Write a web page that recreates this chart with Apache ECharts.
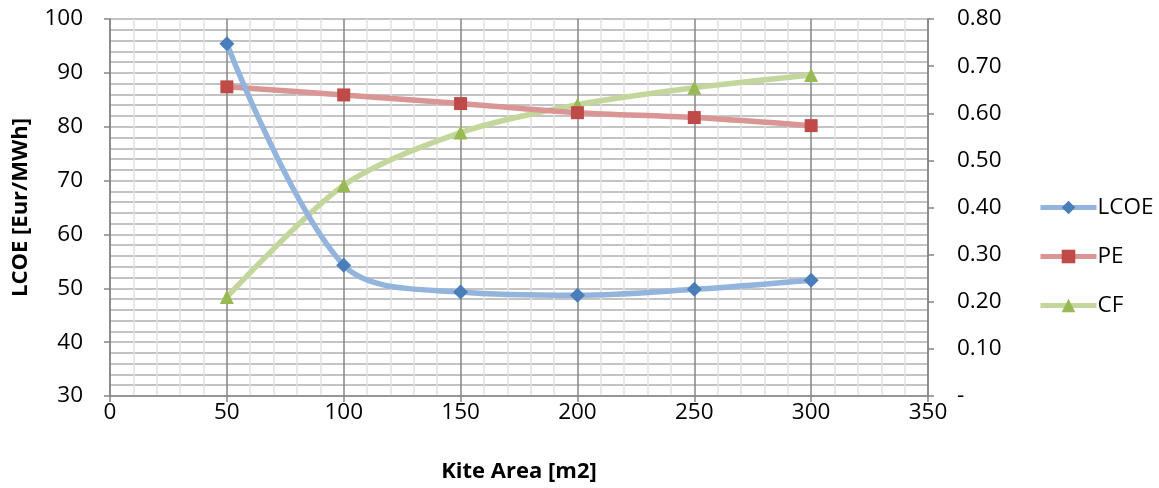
<!DOCTYPE html>
<html>
<head>
<meta charset="utf-8">
<script src="https://cdn.jsdelivr.net/npm/echarts@6/dist/echarts.min.js"></script>
<style>
  html, body { margin: 0; padding: 0; background: #fff; }
  #chart { width: 1159px; height: 488px; }
</style>
</head>
<body>
<div id="chart"></div>
<script>
// Kite area (m2) against levelised cost, PE and capacity factor
const kiteArea = [50, 100, 150, 200, 250, 300];
const lcoe = [95.4, 54.3, 49.3, 48.7, 49.8, 51.5];
const pe = [87.4, 85.9, 84.3, 82.6, 81.7, 80.2];
const cf = [0.21, 0.447, 0.559, 0.618, 0.654, 0.681];

const FONT = 'Open Sans';
const TICK_SIZE = 22.5;
const TITLE_SIZE = 22;

function pairs(xs, ys) {
  return xs.map((x, i) => [x, ys[i]]);
}

const chart = echarts.init(document.getElementById('chart'));
chart.setOption({
  animation: false,
  textStyle: { fontFamily: FONT, color: '#000' },
  grid: { left: 110, right: 231, top: 19, bottom: 91 },
  legend: {
    orient: 'vertical',
    left: 1038,
    top: 196,
    padding: 0,
    itemWidth: 56,
    itemHeight: 17,
    itemGap: 26,
    lineStyle: { width: 5 },
    textStyle: { fontFamily: FONT, fontSize: TICK_SIZE, color: '#000', padding: [0, 0, 0, -4] },
    data: ['LCOE', 'PE', 'CF']
  },
  xAxis: {
    type: 'value',
    min: 0, max: 350, interval: 50,
    name: 'Kite Area [m2]',
    nameLocation: 'middle',
    nameGap: 65,
    nameTextStyle: { fontFamily: FONT, fontWeight: 'bold', fontSize: TITLE_SIZE, color: '#000' },
    axisLine: { show: true, onZero: false, lineStyle: { color: '#868686', width: 1.5 } },
    axisTick: { show: true, length: 6, lineStyle: { color: '#868686', width: 1.5 } },
    axisLabel: { fontFamily: FONT, fontSize: TICK_SIZE, color: '#000', margin: 5 },
    splitLine: { show: true, lineStyle: { color: '#868686', width: 1.5 } },
    minorTick: { show: false, splitNumber: 5 },
    minorSplitLine: { show: true, lineStyle: { color: '#e2e2e2', width: 1.5 } }
  },
  yAxis: [
    {
      type: 'value',
      min: 30, max: 100, interval: 10,
      name: 'LCOE [Eur/MWh]',
      nameLocation: 'middle',
      nameGap: 78,
      nameRotate: 90,
      nameTextStyle: { fontFamily: FONT, fontWeight: 'bold', fontSize: TITLE_SIZE, color: '#000' },
      axisLine: { show: true, lineStyle: { color: '#868686', width: 1.5 } },
      axisTick: { show: true, length: 6, lineStyle: { color: '#868686', width: 1.5 } },
      axisLabel: { fontFamily: FONT, fontSize: TICK_SIZE, color: '#000', margin: 27 },
      splitLine: { show: true, lineStyle: { color: '#b0b0b0', width: 1.5 } },
      minorTick: { show: false, splitNumber: 5 },
      minorSplitLine: { show: true, lineStyle: { color: '#b0b0b0', width: 1.5 } }
    },
    {
      type: 'value',
      min: 0, max: 0.8, interval: 0.1,
      position: 'right',
      axisLine: { show: true, lineStyle: { color: '#868686', width: 1.5 } },
      axisTick: { show: true, length: 6, lineStyle: { color: '#868686', width: 1.5 } },
      axisLabel: {
        fontFamily: FONT, fontSize: TICK_SIZE, color: '#000', margin: 29,
        formatter: v => (Math.abs(v) < 1e-9 ? '-' : v.toFixed(2))
      },
      splitLine: { show: false }
    }
  ],
  series: [
    {
      name: 'LCOE',
      type: 'line',
      yAxisIndex: 0,
      smooth: 0.33,
      data: pairs(kiteArea, lcoe),
      symbol: 'diamond',
      symbolSize: 15,
      itemStyle: { color: '#4a7ebb' },
      lineStyle: { color: '#93b4dc', width: 5.5 },
      z: 5
    },
    {
      name: 'PE',
      type: 'line',
      yAxisIndex: 0,
      smooth: 0.33,
      data: pairs(kiteArea, pe),
      symbol: 'rect',
      symbolSize: 13,
      itemStyle: { color: '#be4b48' },
      lineStyle: { color: '#d99694', width: 5.5 },
      z: 4
    },
    {
      name: 'CF',
      type: 'line',
      yAxisIndex: 1,
      smooth: 0.28,
      data: pairs(kiteArea, cf),
      symbol: 'triangle',
      symbolSize: 14,
      itemStyle: { color: '#98b954' },
      lineStyle: { color: '#c3d69b', width: 5.5 },
      z: 3
    }
  ]
});
</script>
</body>
</html>
